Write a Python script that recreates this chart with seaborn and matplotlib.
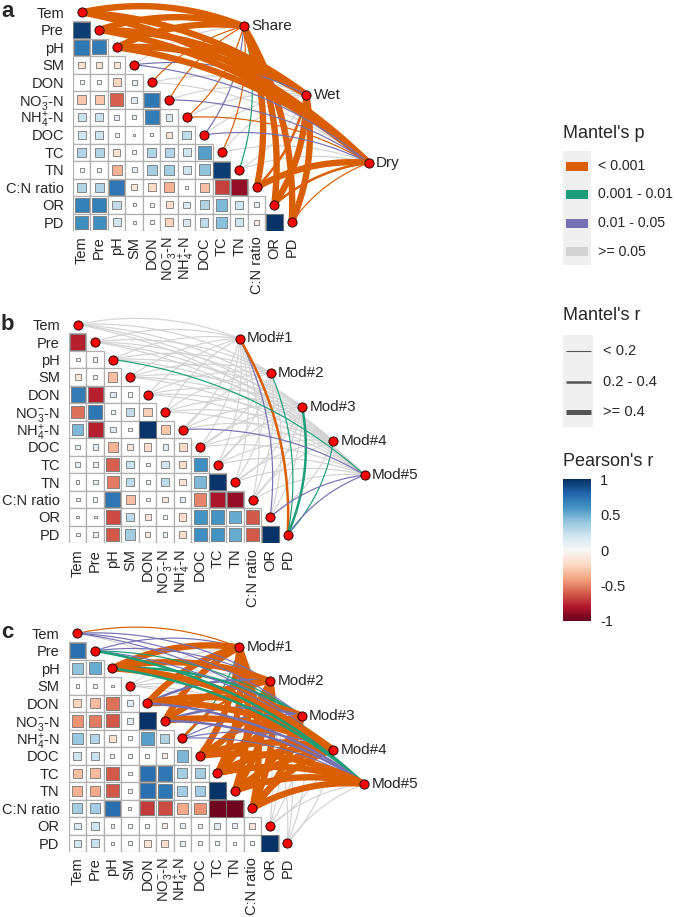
import numpy as np
import pandas as pd
import matplotlib
matplotlib.use("Agg")
import matplotlib.pyplot as plt
import seaborn as sns
from matplotlib.patches import Rectangle
from matplotlib.cm import ScalarMappable
from matplotlib.colors import Normalize

sns.set_style("white")
plt.rcParams["font.family"] = ["Liberation Sans", "DejaVu Sans"]
plt.rcParams["mathtext.fontset"] = "custom"
plt.rcParams["mathtext.rm"] = "Liberation Sans"
plt.rcParams["mathtext.it"] = "Liberation Sans:italic"
plt.rcParams["mathtext.bf"] = "Liberation Sans:bold"

W, H = 675, 917
CELL = 17.5  # pixels per heatmap cell

ENV = ["Tem", "Pre", "pH", "SM", "DON", r"NO$_3^{-}$-N", r"NH$_4^{+}$-N",
       "DOC", "TC", "TN", "C:N ratio", "OR", "PD"]

# lower triangle of Pearson's r (row i holds columns 0..i-1)
corr_a = [
    [0.95],
    [0.72, 0.70],
    [-0.15, -0.15, -0.12],
    [0.06, 0.06, -0.22, 0.10],
    [-0.28, -0.28, -0.60, 0.12, 0.72],
    [0.22, 0.22, 0.10, 0.05, 0.70, 0.15],
    [0.20, 0.20, 0.06, 0.01, 0.03, -0.15, 0.25],
    [0.30, 0.30, -0.15, 0.05, 0.30, 0.30, 0.20, 0.55],
    [0.05, 0.05, -0.35, 0.08, 0.35, 0.35, 0.20, 0.40, 0.95],
    [0.30, 0.30, 0.72, -0.12, -0.20, -0.35, 0.03, -0.30, -0.68, -0.88],
    [0.68, 0.68, 0.25, 0.03, 0.05, -0.18, 0.15, 0.30, 0.45, 0.20, 0.08],
    [0.62, 0.62, 0.20, 0.03, 0.05, -0.22, 0.15, 0.25, 0.42, 0.20, -0.08, 0.98],
]
corr_b = [
    [-0.78],
    [0.05, 0.06],
    [-0.12, 0.04, -0.30],
    [0.70, -0.78, 0.12, 0.06],
    [-0.55, 0.72, 0.05, 0.25, -0.25],
    [0.45, -0.78, 0.12, 0.05, 0.97, -0.28],
    [0.08, 0.10, -0.35, -0.12, -0.18, 0.10, -0.20],
    [0.08, 0.08, -0.60, 0.22, 0.05, 0.20, -0.18, 0.62],
    [0.04, 0.08, -0.52, 0.25, 0.05, 0.25, -0.15, 0.45, 0.97],
    [0.05, 0.06, 0.72, -0.30, 0.05, -0.12, 0.10, -0.50, -0.82, -0.88],
    [0.02, 0.03, -0.65, 0.25, -0.12, 0.06, -0.18, 0.60, 0.60, 0.50, -0.62],
    [0.05, 0.08, -0.62, 0.35, -0.10, 0.06, -0.18, 0.62, 0.60, 0.50, -0.62, 0.98],
]
corr_c = [
    [0.75],
    [0.40, 0.50],
    [0.04, 0.05, 0.02],
    [-0.22, -0.32, -0.55, 0.12],
    [-0.45, -0.52, -0.62, 0.12, 0.98],
    [0.38, 0.30, -0.15, 0.06, 0.55, 0.30],
    [0.20, 0.22, 0.05, 0.06, 0.06, -0.10, 0.45],
    [-0.30, -0.32, -0.62, 0.04, 0.75, 0.72, 0.35, 0.35],
    [-0.35, -0.38, -0.62, 0.04, 0.75, 0.72, 0.35, 0.35, 0.98],
    [0.35, 0.35, 0.75, 0.03, -0.70, -0.65, -0.38, -0.45, -0.97, -0.97],
    [0.15, 0.20, 0.04, 0.05, 0.05, -0.08, 0.08, 0.04, 0.12, 0.10, -0.12],
    [0.18, 0.22, 0.03, 0.05, -0.15, -0.18, 0.08, 0.05, 0.06, 0.03, 0.06, 0.98],
]

# Mantel tests: p class (0 <0.001, 1 0.001-0.01, 2 0.01-0.05, 3 >=0.05)
# and r class (0 <0.2, 1 0.2-0.4, 2 >=0.4), one entry per ENV variable
spec_a = ["Share", "Wet", "Dry"]
mantel_p_a = [
    [0, 0, 0, 3, 0, 0, 0, 2, 0, 1, 0, 0, 0],
    [0, 0, 0, 2, 3, 3, 3, 3, 3, 3, 0, 0, 0],
    [0, 0, 0, 2, 3, 2, 0, 2, 3, 3, 0, 0, 0],
]
mantel_r_a = [
    [2, 2, 2, 0, 0, 0, 0, 0, 0, 0, 2, 2, 2],
    [2, 2, 2, 0, 0, 0, 0, 0, 0, 0, 1, 2, 2],
    [2, 2, 2, 0, 0, 0, 0, 0, 0, 0, 2, 1, 0],
]

spec_bc = ["Mod#1", "Mod#2", "Mod#3", "Mod#4", "Mod#5"]
mantel_p_b = [
    [3, 3, 3, 3, 3, 3, 3, 3, 3, 3, 3, 2, 0],
    [3, 3, 3, 3, 3, 3, 3, 3, 3, 3, 3, 3, 1],
    [3, 3, 3, 3, 3, 3, 3, 3, 3, 3, 3, 3, 1],
    [3, 3, 3, 3, 3, 3, 3, 3, 3, 3, 3, 3, 1],
    [3, 3, 1, 3, 3, 3, 2, 3, 3, 3, 3, 2, 2],
]
mantel_r_b = [
    [0, 0, 0, 0, 0, 0, 0, 0, 0, 0, 0, 0, 1],
    [0, 0, 0, 0, 0, 0, 0, 0, 0, 0, 0, 0, 0],
    [0, 0, 0, 0, 0, 0, 0, 0, 0, 0, 0, 0, 1],
    [0, 0, 0, 0, 0, 0, 0, 0, 0, 0, 0, 0, 0],
    [0, 0, 0, 0, 0, 0, 0, 0, 0, 0, 0, 0, 0],
]
mantel_p_c = [
    [0, 2, 0, 3, 0, 0, 1, 0, 0, 0, 0, 3, 3],
    [2, 2, 0, 3, 2, 0, 0, 0, 0, 0, 0, 3, 3],
    [2, 1, 1, 3, 0, 2, 2, 0, 0, 0, 0, 3, 3],
    [2, 2, 0, 3, 0, 0, 2, 0, 0, 0, 0, 3, 3],
    [3, 1, 1, 3, 2, 2, 2, 0, 0, 0, 0, 3, 3],
]
mantel_r_c = [
    [0, 0, 2, 0, 2, 2, 0, 2, 2, 2, 2, 0, 0],
    [0, 0, 2, 0, 1, 2, 1, 2, 2, 2, 2, 0, 0],
    [0, 0, 1, 0, 2, 1, 0, 1, 2, 2, 2, 0, 0],
    [0, 0, 2, 0, 2, 2, 0, 2, 2, 2, 2, 0, 0],
    [0, 1, 1, 0, 1, 1, 0, 2, 2, 2, 2, 0, 0],
]

P_LABELS = ["< 0.001", "0.001 - 0.01", "0.01 - 0.05", ">= 0.05"]
P_COLORS = ["#D95F02", "#1B9E77", "#7570B3", "#D3D3D3"]
R_LABELS = ["< 0.2", "0.2 - 0.4", ">= 0.4"]
R_WIDTHS = [0.85, 1.8, 4.6]
SQ_MAX = 150  # marker area (pt^2) for |r| = 1

fig = plt.figure(figsize=(W / 100, H / 100), dpi=100)


def panel_axes(origin, xlim=(-0.5, 19.5), ylim=(12.5, -0.6)):
    ox, oy = origin
    left, right = ox + xlim[0] * CELL, ox + xlim[1] * CELL
    top, bottom = oy + ylim[1] * CELL, oy + ylim[0] * CELL
    ax = fig.add_axes([left / W, 1 - bottom / H, (right - left) / W, (bottom - top) / H])
    ax.set_xlim(*xlim)
    ax.set_ylim(*ylim)
    return ax


def corr_frame(rows):
    recs = []
    for i, vals in enumerate(rows, start=1):
        for j, v in enumerate(vals):
            recs.append((j, i, v))
    df = pd.DataFrame(recs, columns=["col", "row", "r"])
    df["absr"] = df["r"].abs()
    return df


def curve(p0, p1, bend=0.075):
    p0, p1 = np.asarray(p0, float), np.asarray(p1, float)
    d = p1 - p0
    L = np.hypot(*d)
    nrm = np.array([d[1], -d[0]]) / L
    if nrm[0] - nrm[1] < 0:  # always bulge up/right
        nrm = -nrm
    ctrl = (p0 + p1) / 2 + nrm * 2 * bend * L
    t = np.linspace(0, 1, 60)[:, None]
    return (1 - t) ** 2 * p0 + 2 * (1 - t) * t * ctrl + t ** 2 * p1


def draw_panel(ax, rows, specs, p_codes, r_codes):
    n = len(ENV)
    df = corr_frame(rows)
    for c, r in zip(df["col"], df["row"]):
        ax.add_patch(Rectangle((c - 0.5, r - 0.5), 1, 1, fc="white",
                               ec="#b0b0b0", lw=0.9, zorder=1))
    sns.scatterplot(data=df, x="col", y="row", hue="r", palette="RdBu",
                    hue_norm=(-1, 1), size="absr", sizes=(0, SQ_MAX),
                    size_norm=(0, 1), marker="s", edgecolor="#777777",
                    linewidth=0.6, legend=False, ax=ax, zorder=2)

    # spec nodes evenly spaced on a line to the right of the triangle
    sx = np.linspace(9.25, 16.4, len(specs))
    sy = np.linspace(0.8, 8.6, len(specs))

    # links: grey ones first, coloured ones on top
    for layer in (True, False):
        for k in range(len(specs)):
            for i in range(n):
                p, w = p_codes[k][i], r_codes[k][i]
                if (p == 3) != layer:
                    continue
                pts = curve((i, i), (sx[k], sy[k]))
                ax.plot(pts[:, 0], pts[:, 1], color=P_COLORS[p], lw=R_WIDTHS[w],
                        solid_capstyle="butt", clip_on=False,
                        zorder=3 if layer else 4)

    nodes = pd.DataFrame({"x": list(range(n)) + list(sx),
                          "y": list(range(n)) + list(sy)})
    sns.scatterplot(data=nodes, x="x", y="y", color="#FF0000", edgecolor="black",
                    s=44, linewidth=0.6, ax=ax, zorder=6, clip_on=False,
                    legend=False)
    for k, name in enumerate(specs):
        ax.text(sx[k] + 0.42, sy[k], name, ha="left", va="center", fontsize=11)

    ax.set_xticks(range(n))
    ax.set_xticklabels(ENV, rotation=90)
    ax.set_yticks(range(n))
    ax.set_yticklabels(ENV)
    ax.tick_params(axis="both", length=0, labelsize=10.5)
    ax.tick_params(axis="y", pad=6.5)
    ax.tick_params(axis="x", pad=4)
    ax.set_xlabel("")
    ax.set_ylabel("")
    for s in ax.spines.values():
        s.set_visible(False)
    ax.patch.set_visible(False)


ax_a = panel_axes((81.7, 12.3))
draw_panel(ax_a, corr_a, spec_a, mantel_p_a, mantel_r_a)
ax_b = panel_axes((77.7, 324.5))
draw_panel(ax_b, corr_b, spec_bc, mantel_p_b, mantel_r_b)
ax_c = panel_axes((77.3, 633.3))
draw_panel(ax_c, corr_c, spec_bc, mantel_p_c, mantel_r_c)

# panel letters
for letter, yb in zip("abc", [17, 330, 638]):
    fig.text(1 / W, 1 - yb / H, letter, fontsize=16, fontweight="bold",
             ha="left", va="baseline")

# legends, drawn in pixel coordinates
lg = fig.add_axes([0, 0, 1, 1], zorder=-1)
lg.set_xlim(0, W)
lg.set_ylim(H, 0)
lg.axis("off")

lg.text(563, 134, "Mantel's p", fontsize=13, ha="left", va="center")
lg.add_patch(Rectangle((563, 151), 28, 114, fc="#f0f0f0", ec="none"))
for k, (lab, col) in enumerate(zip(P_LABELS, P_COLORS)):
    y = 166 + k * 28.5
    lg.add_patch(Rectangle((566, y - 4.5), 22, 9, fc=col, ec="none"))
    lg.text(598, y, lab, fontsize=10.2, ha="left", va="center")

lg.text(563, 316, "Mantel's r", fontsize=13, ha="left", va="center")
lg.add_patch(Rectangle((563, 335), 30, 92, fc="#f0f0f0", ec="none"))
for k, (lab, lw) in enumerate(zip(R_LABELS, [0.8, 1.8, 3.6])):
    y = 351 + k * 30.5
    lg.plot([566, 591], [y, y], color="#555555", lw=lw, solid_capstyle="butt")
    lg.text(603, y, lab, fontsize=10.5, ha="left", va="center")

lg.text(563, 461, "Pearson's r", fontsize=13, ha="left", va="center")
cax = fig.add_axes([563 / W, 1 - 621 / H, 28 / W, 142 / H])
sm = ScalarMappable(norm=Normalize(-1, 1), cmap="RdBu")
cb = fig.colorbar(sm, cax=cax, ticks=[-1, -0.5, 0, 0.5, 1])
cb.outline.set_visible(False)
cb.ax.set_yticklabels(["-1", "-0.5", "0", "0.5", "1"])
cb.ax.tick_params(direction="in", color="white", length=5, width=0.8,
                  left=True, right=True, labelsize=10.5, pad=6.5)

fig.savefig("out.png", dpi=100, facecolor="white")
